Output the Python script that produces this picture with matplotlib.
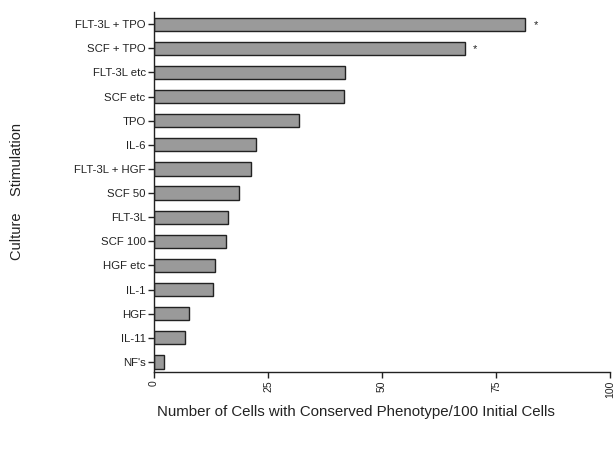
import matplotlib
matplotlib.use("Agg")
import matplotlib.pyplot as plt
import numpy as np

categories = ["FLT-3L + TPO", "SCF + TPO", "FLT-3L etc", "SCF etc", "TPO", "IL-6",
              "FLT-3L + HGF", "SCF 50", "FLT-3L", "SCF 100", "HGF etc", "IL-1",
              "HGF", "IL-11", "NF's"]
values = [81.4, 68.1, 41.9, 41.6, 31.8, 22.4, 21.2, 18.6, 16.2, 15.7, 13.4, 13.0, 7.6, 6.8, 2.2]
significant = [True, True] + [False] * 13
xticks = [0, 25, 50, 75, 100]

plt.rcParams['font.family'] = ['Liberation Sans', 'DejaVu Sans']

fig = plt.figure(figsize=(6.15, 4.51), dpi=100)
ax = fig.add_axes([0.2504, 0.175, 0.7416, 0.798])

n = len(categories)
ypos = np.arange(n)[::-1]
ax.barh(ypos, values, height=0.55, color="#9a9a9a", edgecolor="#222222", linewidth=1.0)
for y, v, s in zip(ypos, values, significant):
    if s:
        ax.text(v + 1.8, y - 0.05, "*", ha="left", va="center", fontsize=8, color="#222222")

ax.set_yticks(ypos)
ax.set_yticklabels(categories, fontsize=8.2, color="#222222")
ax.set_xticks(xticks)
ax.set_xticklabels([str(t) for t in xticks], rotation=90, fontsize=7.5, color="#222222")
ax.set_xlim(0, 100)
ax.set_ylim(-0.42, n - 0.5)
for sp in ["top", "right"]:
    ax.spines[sp].set_visible(False)
for sp in ["left", "bottom"]:
    ax.spines[sp].set_linewidth(1.0)
    ax.spines[sp].set_color("#222222")
ax.tick_params(axis="both", length=4, width=1.0, color="#222222", pad=2)

fig.text(0.028, 0.575, "Culture    Stimulation", rotation=90, ha="center", va="center",
         fontsize=10.5, color="#222222")
fig.text(0.579, 0.087, "Number of Cells with Conserved Phenotype/100 Initial Cells",
         ha="center", va="center", fontsize=10.8, color="#222222")

fig.savefig("out.png", dpi=100)
